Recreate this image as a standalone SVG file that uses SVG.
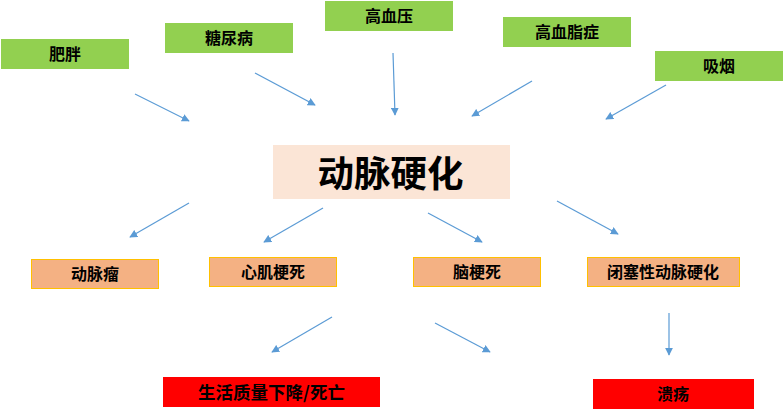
<svg xmlns="http://www.w3.org/2000/svg" width="784" height="410" viewBox="0 0 784 410">
<defs>
<style>
.t{font-family:"Noto Sans CJK SC","Noto Sans",sans-serif;font-weight:bold;fill:#000;text-anchor:middle;dominant-baseline:central;font-size:16px}
.g{fill:#92D050}
.o{fill:#F4B183;stroke:#FFC000;stroke-width:1}
.r{fill:#FF0000}
.c{fill:#FBE5D6}
.a{stroke:#5B9BD5;stroke-width:1.2;fill:none;marker-end:url(#ah)}
</style>
<marker id="ah" viewBox="0 0 10 10" refX="9" refY="5" markerWidth="8" markerHeight="8" markerUnits="userSpaceOnUse" orient="auto">
<path d="M0,0 L10,5 L0,10 z" fill="#5B9BD5"/>
</marker>
</defs>
<rect width="784" height="410" fill="#fff"/>
<g id="connectors">
<line class="a" x1="135" y1="94" x2="189" y2="121"/>
<line class="a" x1="255" y1="73" x2="315" y2="105"/>
<line class="a" x1="393" y1="53" x2="395" y2="115"/>
<line class="a" x1="532" y1="81" x2="472" y2="116"/>
<line class="a" x1="666" y1="85" x2="606" y2="119"/>
<line class="a" x1="189" y1="203" x2="130" y2="237"/>
<line class="a" x1="323" y1="208" x2="264" y2="242"/>
<line class="a" x1="428" y1="213" x2="482" y2="242"/>
<line class="a" x1="557" y1="201" x2="618" y2="234"/>
<line class="a" x1="332" y1="317" x2="272" y2="352"/>
<line class="a" x1="435" y1="323" x2="490" y2="352"/>
<line class="a" x1="669" y1="313" x2="669" y2="355"/>
</g>
<g id="n-feipang"><rect class="g" x="1" y="39" width="128" height="30"/><text class="t" x="65" y="53">肥胖</text></g>
<g id="n-tangniaobing"><rect class="g" x="165" y="23" width="128" height="30"/><text class="t" x="229" y="37">糖尿病</text></g>
<g id="n-gaoxueya"><rect class="g" x="325" y="1" width="128" height="30"/><text class="t" x="389" y="15">高血压</text></g>
<g id="n-gaoxuezhi"><rect class="g" x="503" y="17" width="128" height="30"/><text class="t" x="567" y="31">高血脂症</text></g>
<g id="n-xiyan"><rect class="g" x="655" y="51" width="128" height="30"/><text class="t" x="719" y="65">吸烟</text></g>
<g id="n-center"><rect class="c" x="273" y="145" width="237" height="54"/><text class="t" x="390.5" y="171" style="font-size:36.5px">动脉硬化</text></g>
<g id="n-dongmailiu"><rect class="o" x="31.5" y="259.5" width="127" height="29"/><text class="t" x="95" y="273">动脉瘤</text></g>
<g id="n-xinji"><rect class="o" x="209.5" y="257.5" width="127" height="29"/><text class="t" x="273" y="271">心肌梗死</text></g>
<g id="n-naogeng"><rect class="o" x="413.5" y="257.5" width="127" height="29"/><text class="t" x="477" y="271">脑梗死</text></g>
<g id="n-bisai"><rect class="o" x="587.5" y="257.5" width="152" height="29"/><text class="t" x="663" y="271">闭塞性动脉硬化</text></g>
<g id="n-shenghuo"><rect class="r" x="163" y="377" width="217" height="30"/><text class="t" x="271.5" y="391" style="font-size:17.5px">生活质量下降/死亡</text></g>
<g id="n-kuiyang"><rect class="r" x="593" y="379" width="161" height="30"/><text class="t" x="673" y="393">溃疡</text></g>
</svg>
